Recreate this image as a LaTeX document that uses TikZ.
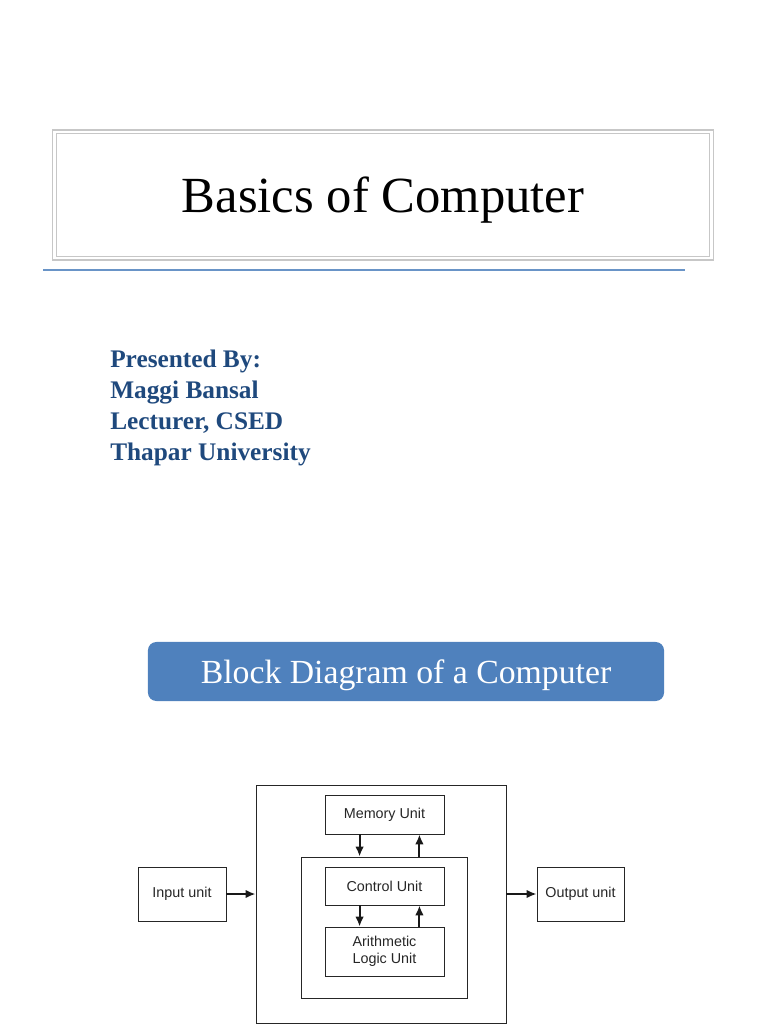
\documentclass[tikz,border=0pt]{standalone}
\usepackage{fontspec}
\setmainfont{Liberation Serif}
\newfontfamily\diagfont{Liberation Sans}
\usetikzlibrary{arrows.meta}
\definecolor{slideblue}{HTML}{4F81BD}
\definecolor{nameblue}{HTML}{1F497D}

\begin{document}
\begin{tikzpicture}[
  x=0.025cm, y=-0.025cm,
  titleline/.style={draw=black!22, line width=0.8pt},
  titlebox/.style={titleline, minimum width=16.5cm, minimum height=3.25cm, text depth=0pt, font=\fontsize{36}{40}\selectfont},
  headbox/.style={fill=slideblue, rounded corners=6pt, minimum width=12.9cm, minimum height=1.475cm, text=white, text depth=0pt, font=\fontsize{24}{28}\selectfont},
  unit/.style={draw=black!85, line width=0.6pt, text=black!85, font=\diagfont\fontsize{10.2}{12}\selectfont, align=center, inner sep=0pt},
  frame/.style={draw=black!85, line width=0.6pt, inner sep=0pt},
  arr/.style={draw=black!90, line width=1.5pt, -{Latex[length=7pt,width=6pt]}}
]
\useasboundingbox (0,0) rectangle (768,1024);

% title slide
\node[titlebox] (title) at (383,195) {Basics of Computer};
\draw[titleline] ([xshift=0.1cm,yshift=-0.1cm]title.north west) rectangle ([xshift=-0.1cm,yshift=0.1cm]title.south east);
\draw[slideblue!85, line width=0.8pt] (43,270) -- (685,270);

\node[anchor=north west, inner sep=0pt, align=left, text=nameblue, font=\bfseries\fontsize{18}{22}\selectfont] (author) at (110,350) {Presented By:\\Maggi Bansal\\Lecturer, CSED\\Thapar University};

% block diagram
\node[headbox] (head) at (406,671.5) {Block Diagram of a Computer};

\node[frame, minimum width=6.25cm, minimum height=5.95cm] (sys) at (381,904) {};
\node[frame, minimum width=4.15cm, minimum height=3.525cm] (cpu) at (384,927.5) {};
\node[unit, minimum width=2.975cm, minimum height=0.975cm] (mem) at (384.5,814.5) {Memory Unit};
\node[unit, minimum width=2.975cm, minimum height=0.95cm] (cu) at (384.5,886) {Control Unit};
\node[unit, minimum width=2.975cm, minimum height=1.225cm] (alu) at (384.5,951.5) {Arithmetic\\Logic Unit};
\node[unit, minimum width=2.2cm, minimum height=1.35cm] (in) at (182,894) {Input unit};
\node[unit, minimum width=2.175cm, minimum height=1.35cm] (out) at (580.5,894) {Output unit};

\draw[arr] (in.east) -- (in.east -| sys.west);
\draw[arr] (sys.east |- out.west) -- (out.west);
\draw[arr] ([xshift=0.875cm]mem.south west) -- ([xshift=0.875cm]mem.south west |- cpu.north);
\draw[arr] ([xshift=-0.625cm]mem.south east |- cpu.north) -- ([xshift=-0.625cm]mem.south east);
\draw[arr] ([xshift=0.875cm]cu.south west) -- ([xshift=0.875cm]alu.north west);
\draw[arr] ([xshift=-0.625cm]alu.north east) -- ([xshift=-0.625cm]cu.south east);
\end{tikzpicture}
\end{document}
